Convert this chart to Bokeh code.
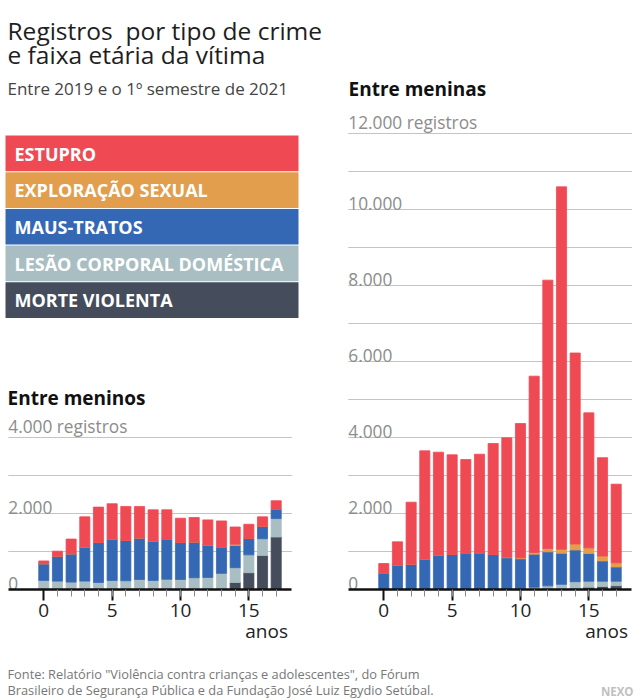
from bokeh.plotting import figure
from bokeh.layouts import column, row
from bokeh.models import ColumnDataSource, Range1d, FixedTicker, LinearAxis
from bokeh.core.properties import value
from bokeh.embed import file_html
from bokeh.resources import INLINE

FONT = value("Open Sans")

# ---------------- data ----------------
ages = list(range(18))
stack_keys = ["morte", "lesao", "maus", "exploracao", "estupro"]  # bottom -> top
stack_colors = ["#454c5c", "#a8bec2", "#3468b4", "#e29e4c", "#ef4a54"]

legend_labels = ["ESTUPRO", "EXPLORAÇÃO SEXUAL", "MAUS-TRATOS",
                 "LESÃO CORPORAL DOMÉSTICA", "MORTE VIOLENTA"]
legend_colors = ["#ef4a54", "#e29e4c", "#3468b4", "#a8bec2", "#454c5c"]

boys_morte = [0, 0, 0, 0, 0, 0, 0, 0, 0, 0, 0, 0, 0, 20, 186, 442, 894, 1381]
boys_lesao = [240, 221, 195, 221, 186, 239, 230, 265, 239, 270, 265, 310, 319, 405, 389, 470, 442, 486]
boys_maus = [437, 655, 743, 894, 1053, 1088, 1062, 1089, 1035, 1049, 974, 938, 849, 681, 584, 433, 328, 239]
boys_exploracao = [0, 0, 0, 0, 0, 0, 0, 0, 0, 0, 0, 0, 0, 0, 35, 0, 0, 0]
boys_estupro = [75, 133, 389, 797, 929, 930, 894, 832, 823, 778, 637, 646, 664, 699, 451, 372, 248, 230]

girls_morte = [0, 0, 0, 0, 0, 0, 0, 0, 0, 0, 0, 0, 0, 0, 30, 61, 79, 100]
girls_lesao = [0, 0, 0, 0, 0, 0, 0, 0, 0, 0, 25, 60, 96, 136, 176, 158, 140, 119]
girls_maus = [421, 640, 667, 798, 904, 921, 947, 965, 921, 835, 782, 870, 895, 815, 834, 728, 531, 373]
girls_exploracao = [0, 0, 0, 0, 0, 0, 0, 0, 0, 15, 26, 45, 88, 110, 158, 149, 131, 110]
girls_estupro = [263, 614, 1631, 2851, 2710, 2623, 2474, 2596, 2921, 3141, 3535, 4639, 7061, 9535, 5026, 3553, 2588, 2070]

x_major = [0, 5, 10, 15]
x_minor = list(range(1, 18))
anos_pos = [16.3]

boys_label_vals = [0, 2000, 4000]
boys_label_txt = ["0", "2.000", "4.000 registros"]
boys_grid = [1000, 2000, 3000, 4000]

girls_label_vals = [0, 2000, 4000, 6000, 8000, 10000, 12000]
girls_label_txt = ["0", "2.000", "4.000", "6.000", "8.000", "10.000", "12.000 registros"]
girls_grid = [1000, 2000, 3000, 4000, 5000, 6000, 7000, 8000, 9000, 10000, 11000, 12000]

title_lines = ["Registros\u00a0 por tipo de crime", "e faixa etária da vítima"]
subtitle = "Entre 2019 e o 1º semestre de 2021"
boys_title = "Entre meninos"
girls_title = "Entre meninas"
footer_lines = ['Fonte: Relatório "Violência contra crianças e adolescentes", do Fórum',
                "Brasileiro de Segurança Pública e da Fundação José Luiz Egydio Setúbal."]

# ---------------- geometry ----------------
PX_PER_1000 = 38.0
PX_PER_YEAR = 13.67
DOMAIN = (-2.6, 18.15)        # extent of gridlines / axis line (years)
LEFT_W, RIGHT_W = 308, 330
TOP_H = 100
HEAD_END = 379
BOYS_TOP = 413
BASE_Y = 589
BOTTOM = 66


def canvas(x0, x1, y0, y1):
    c = figure(frame_width=x1 - x0, frame_height=y1 - y0,
               x_range=Range1d(x0, x1), y_range=Range1d(y1, y0),
               output_backend="svg", toolbar_location=None,
               x_axis_location=None, y_axis_location=None,
               min_border_left=0, min_border_right=0, min_border_top=0,
               min_border_bottom=0, outline_line_color=None)
    c.xgrid.visible = False
    c.ygrid.visible = False
    return c


def bar_chart(frame_w, zero_px, frame_h, top_border, vals, labels, grid, data):
    ymax = frame_h / PX_PER_1000 * 1000
    xs = -zero_px / PX_PER_YEAR
    xe = (frame_w - zero_px) / PX_PER_YEAR
    p = figure(frame_width=frame_w, frame_height=frame_h, x_range=Range1d(xs, xe),
               y_range=Range1d(0, ymax), output_backend="svg", toolbar_location=None,
               y_axis_location=None, min_border_left=0, min_border_right=0,
               min_border_top=top_border, min_border_bottom=BOTTOM, outline_line_color=None)
    p.xgrid.visible = False
    p.ygrid.visible = False
    n = len(grid)
    p.segment(x0=[DOMAIN[0]] * n, x1=[DOMAIN[1]] * n, y0=grid, y1=grid,
              line_color="#c4c4c4", line_width=1)
    src = ColumnDataSource(dict(age=ages, **data))
    p.vbar_stack(stack_keys, x="age", width=0.74, color=stack_colors, line_width=0.8, source=src)
    p.text(x=[DOMAIN[0]] * len(vals), y=vals, text=labels, text_font=FONT,
           text_font_size="17.3px", text_color="#8c8c8c", text_baseline="bottom",
           text_align="left")
    ax = p.xaxis[0]
    ax.bounds = DOMAIN
    ax.ticker = FixedTicker(ticks=x_major, minor_ticks=x_minor)
    ax.axis_line_color = "#111111"
    ax.axis_line_width = 2.5
    ax.major_tick_line_color = "#111111"
    ax.major_tick_line_width = 2
    ax.major_tick_in = 0
    ax.major_tick_out = 11
    ax.minor_tick_line_color = "#8a8a8a"
    ax.minor_tick_line_width = 1
    ax.minor_tick_in = 0
    ax.minor_tick_out = 7
    ax.major_label_text_font = "Open Sans"
    ax.major_label_text_font_size = "19px"
    ax.major_label_text_color = "#222222"
    ax.major_label_standoff = 3
    ax2 = LinearAxis(ticker=FixedTicker(ticks=anos_pos, minor_ticks=[]),
                     major_label_overrides={anos_pos[0]: "anos"},
                     axis_line_color=None, major_tick_line_color=None,
                     minor_tick_line_color=None, major_tick_in=0, major_tick_out=0,
                     minor_tick_in=0, minor_tick_out=0,
                     major_label_standoff=-2, major_label_text_font="Open Sans",
                     major_label_text_font_size="19px", major_label_text_color="#222222")
    p.add_layout(ax2, "below")
    return p


# ---------------- top band (full width) ----------------
top = canvas(0, LEFT_W + RIGHT_W, 0, TOP_H)
top.text(x=[7, 7], y=[30, 53.5], text=title_lines, text_font=FONT,
         text_font_size="24.5px", text_color="#1e1e1e", text_baseline="alphabetic")
top.text(x=[7], y=[87.5], text=[subtitle], text_font=FONT, text_font_size="17px",
         text_color="#444444", text_baseline="alphabetic")
top.text(x=[348], y=[88], text=[girls_title], text_font=FONT, text_font_size="19px",
         text_font_style="bold", text_color="#111111", text_baseline="alphabetic")

# ---------------- left: legend + boys ----------------
head = canvas(0, LEFT_W, TOP_H, HEAD_END)
tops = [135 + 36.7 * i for i in range(5)]
head.quad(left=[5] * 5, right=[298] * 5, top=tops, bottom=[t + 35.7 for t in tops],
          fill_color=legend_colors, line_color=None)
head.text(x=[14] * 5, y=[t + 18 for t in tops], text=legend_labels, text_font=FONT,
          text_font_size="18px", text_font_style="bold", text_color="white",
          text_baseline="middle")

boys = bar_chart(LEFT_W, 43.3, BASE_Y - BOYS_TOP, BOYS_TOP - HEAD_END,
                 boys_label_vals, boys_label_txt, boys_grid,
                 dict(morte=boys_morte, lesao=boys_lesao, maus=boys_maus,
                      exploracao=boys_exploracao, estupro=boys_estupro))
boys.title.text = boys_title
boys.title.text_font = "Open Sans"
boys.title.text_font_size = "19px"
boys.title.text_font_style = "bold"
boys.title.text_color = "#111111"
boys.title.align = "left"
boys.title.offset = 7
boys.title.standoff = 5

# ---------------- right: girls ----------------
girls = bar_chart(RIGHT_W, 75.3, BASE_Y - TOP_H, 0, girls_label_vals, girls_label_txt, girls_grid,
                  dict(morte=girls_morte, lesao=girls_lesao, maus=girls_maus,
                       exploracao=girls_exploracao, estupro=girls_estupro))

# ---------------- footer ----------------
foot = canvas(0, LEFT_W + RIGHT_W, 655, 698)
foot.text(x=[7, 7], y=[673, 689], text=footer_lines, text_font=FONT, text_font_size="12.8px",
          text_color="#777777", text_baseline="alphabetic")
foot.text(x=[633], y=[691], text=["NEXO"], text_font=FONT, text_font_size="11.5px",
          text_font_style="bold", text_color="#c0c0c0", text_align="right",
          text_baseline="alphabetic")

layout = column(top, row(column(head, boys), girls), foot)

open("out.html", "w").write(file_html(layout, INLINE))
